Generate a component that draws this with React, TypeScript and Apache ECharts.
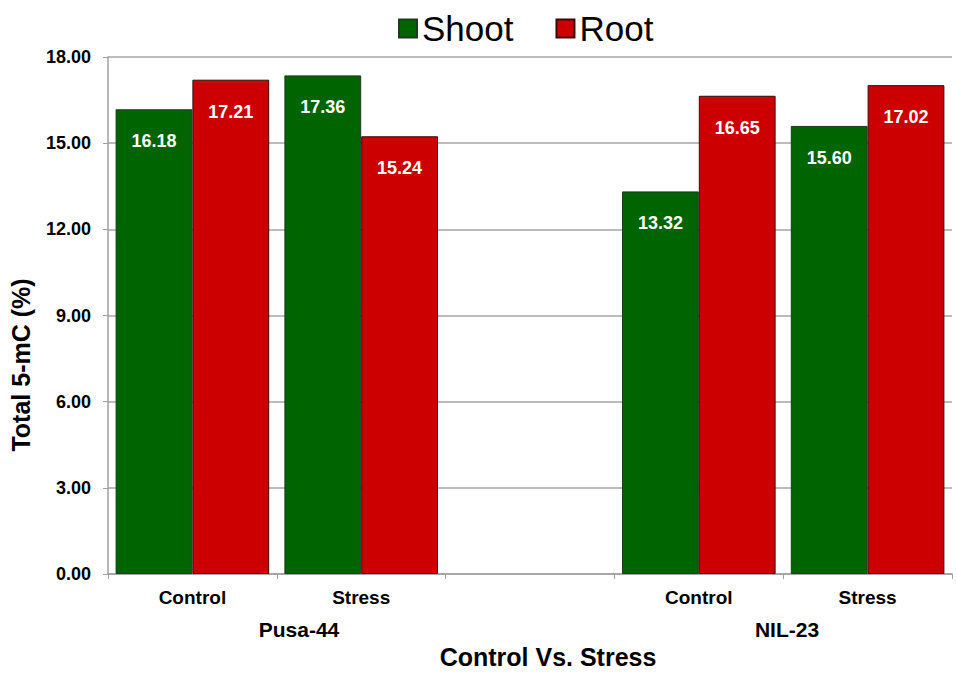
import React, { useEffect, useRef } from "react";
import * as echarts from "echarts";

const categories = ["Control", "Stress", "", "Control", "Stress"];
const shootValues: (number | string)[] = [16.18, 17.36, "-", 13.32, 15.6];
const rootValues: (number | string)[] = [17.21, 15.24, "-", 16.65, 17.02];
const groupLabels = ["Pusa-44", "NIL-23"];
const yTitle = "Total 5-mC (%)";
const xTitle = "Control Vs. Stress";
const FONT = "Liberation Sans, Arial, sans-serif";

export default function App() {
  const ref = useRef<HTMLDivElement>(null);
  useEffect(() => {
    const chart = echarts.init(ref.current!, null, { renderer: "svg" });
    const labelCfg = {
      show: true,
      position: "insideTop",
      distance: 23,
      color: "#ffffff",
      fontSize: 18,
      fontWeight: "bold",
      fontFamily: FONT,
      formatter: (p: any) => Number(p.value).toFixed(2),
    };
    chart.setOption({
      animation: false,
      backgroundColor: "#ffffff",
      textStyle: { fontFamily: FONT },
      legend: {
        left: 393,
        top: 6,
        itemWidth: 18,
        itemHeight: 18,
        itemGap: 42,
        icon: "rect",
        textStyle: { fontSize: 35, color: "#000", fontFamily: FONT },
        data: ["Shoot", "Root"],
      },
      grid: { left: 108, right: 5, top: 57, bottom: 104, containLabel: false },
      xAxis: {
        type: "category",
        data: categories,
        boundaryGap: true,
        axisLine: { lineStyle: { color: "#a0a0a0", width: 1.5 } },
        axisTick: { show: true, alignWithLabel: false, length: 5, lineStyle: { color: "#a0a0a0" } },
        axisLabel: { color: "#000", fontSize: 19, fontWeight: "bold", margin: 14, fontFamily: FONT },
      },
      yAxis: {
        type: "value",
        min: 0,
        max: 18,
        interval: 3,
        axisLine: { show: true, lineStyle: { color: "#a0a0a0", width: 1.5 } },
        axisTick: { show: true, length: 5, lineStyle: { color: "#a0a0a0" } },
        splitLine: { lineStyle: { color: "#a6a6a6", width: 1.5 } },
        axisLabel: {
          color: "#000",
          fontSize: 18,
          fontWeight: "bold",
          margin: 17,
          fontFamily: FONT,
          formatter: (v: number) => v.toFixed(2),
        },
      },
      graphic: [
        {
          type: "text",
          x: 299,
          y: 629,
          style: { text: groupLabels[0], fill: "#000", font: `bold 21px ${FONT}`, textAlign: "center", textVerticalAlign: "middle" },
        },
        {
          type: "text",
          x: 787,
          y: 629,
          style: { text: groupLabels[1], fill: "#000", font: `bold 21px ${FONT}`, textAlign: "center", textVerticalAlign: "middle" },
        },
        {
          type: "text",
          x: 548,
          y: 657,
          style: { text: xTitle, fill: "#000", font: `bold 25px ${FONT}`, textAlign: "center", textVerticalAlign: "middle" },
        },
        {
          type: "text",
          x: 21,
          y: 365,
          rotation: Math.PI / 2,
          style: { text: yTitle, fill: "#000", font: `bold 25px ${FONT}`, textAlign: "center", textVerticalAlign: "middle" },
        },
      ],
      series: [
        {
          name: "Shoot",
          type: "bar",
          data: shootValues,
          barGap: "0%",
          barCategoryGap: "9%",
          itemStyle: { color: "#006400", borderColor: "#1f3a1f", borderWidth: 1 },
          label: labelCfg,
        },
        {
          name: "Root",
          type: "bar",
          data: rootValues,
          barGap: "0%",
          barCategoryGap: "9%",
          itemStyle: { color: "#cc0000", borderColor: "#3a0a0a", borderWidth: 1 },
          label: labelCfg,
        },
      ],
    });
    return () => chart.dispose();
  }, []);
  return <div ref={ref} style={{ position: "fixed", left: 0, top: 0, width: 957, height: 678 }} />;
}
